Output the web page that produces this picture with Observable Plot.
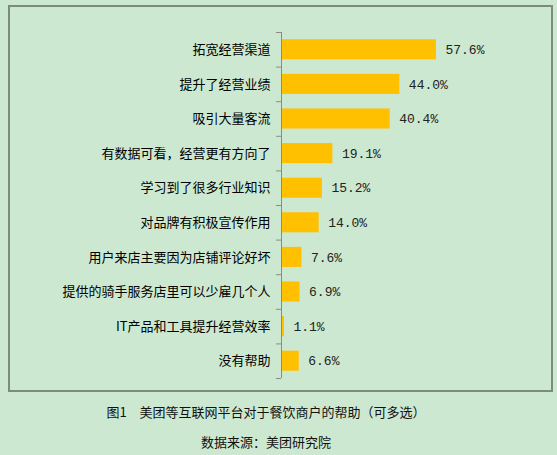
<!DOCTYPE html>
<html><head><meta charset="utf-8">
<script src="https://cdn.jsdelivr.net/npm/d3@7"></script>
<script src="https://cdn.jsdelivr.net/npm/@observablehq/plot@0.6"></script>
<style>
html,body{margin:0;padding:0;background:#cde8d0;}
#wrap{position:relative;width:557px;height:455px;overflow:hidden;background:#cde8d0;}
#frame{position:absolute;left:8px;top:5px;width:541px;height:383px;border:2px solid #7d8a7d;}
#chart{position:absolute;left:0;top:0;}
.cap{position:absolute;left:0;width:532px;text-align:center;font-family:"Noto Sans CJK SC",sans-serif;font-size:13px;color:#111;}
</style></head>
<body>
<div id="wrap">
<div id="frame"></div>
<div id="chart"></div>
<div class="cap" style="top:402px">图1　美团等互联网平台对于餐饮商户的帮助（可多选）</div>
<div class="cap" style="top:432px">数据来源：美团研究院</div>
</div>
<script>
const categories = ["拓宽经营渠道","提升了经营业绩","吸引大量客流","有数据可看，经营更有方向了","学习到了很多行业知识","对品牌有积极宣传作用","用户来店主要因为店铺评论好坏","提供的骑手服务店里可以少雇几个人","IT产品和工具提升经营效率","没有帮助"];
const values = [57.6,44.0,40.4,19.1,15.2,14.0,7.6,6.9,1.1,6.6];
const data = categories.map((c,i)=>({c, v: values[i], i}));
const tickPositions = d3.range(categories.length + 1);

const chart = Plot.plot({
  width: 557, height: 395,
  marginLeft: 281, marginRight: 7, marginTop: 32, marginBottom: 17,
  style: {background: "transparent", overflow: "visible"},
  x: {domain: [0, 100], axis: null},
  y: {domain: [0, categories.length], reverse: true, axis: null},
  marks: [
    Plot.rectX(data, {x1: 0, x2: "v", y1: d => d.i + 0.21, y2: d => d.i + 0.79, fill: "#ffc000"}),
    Plot.ruleX([0], {stroke: "#8a8a8a", strokeWidth: 1}),
    Plot.axisY({ticks: tickPositions, tickFormat: () => "", tickSize: 5, stroke: "#8a8a8a", anchor: "left"}),
    Plot.text(data, {x: 0, y: d => d.i + 0.5, text: "c", dx: -11, textAnchor: "end", fontSize: 13, fill: "#000", fontFamily: "Noto Sans CJK SC"}),
    Plot.text(data, {x: "v", y: d => d.i + 0.5, text: d => d.v.toFixed(1) + "%", dx: 9, textAnchor: "start", fontSize: 13, fill: "#222", fontFamily: "Liberation Mono"})
  ]
});
document.getElementById("chart").appendChild(chart);
</script>
</body></html>
